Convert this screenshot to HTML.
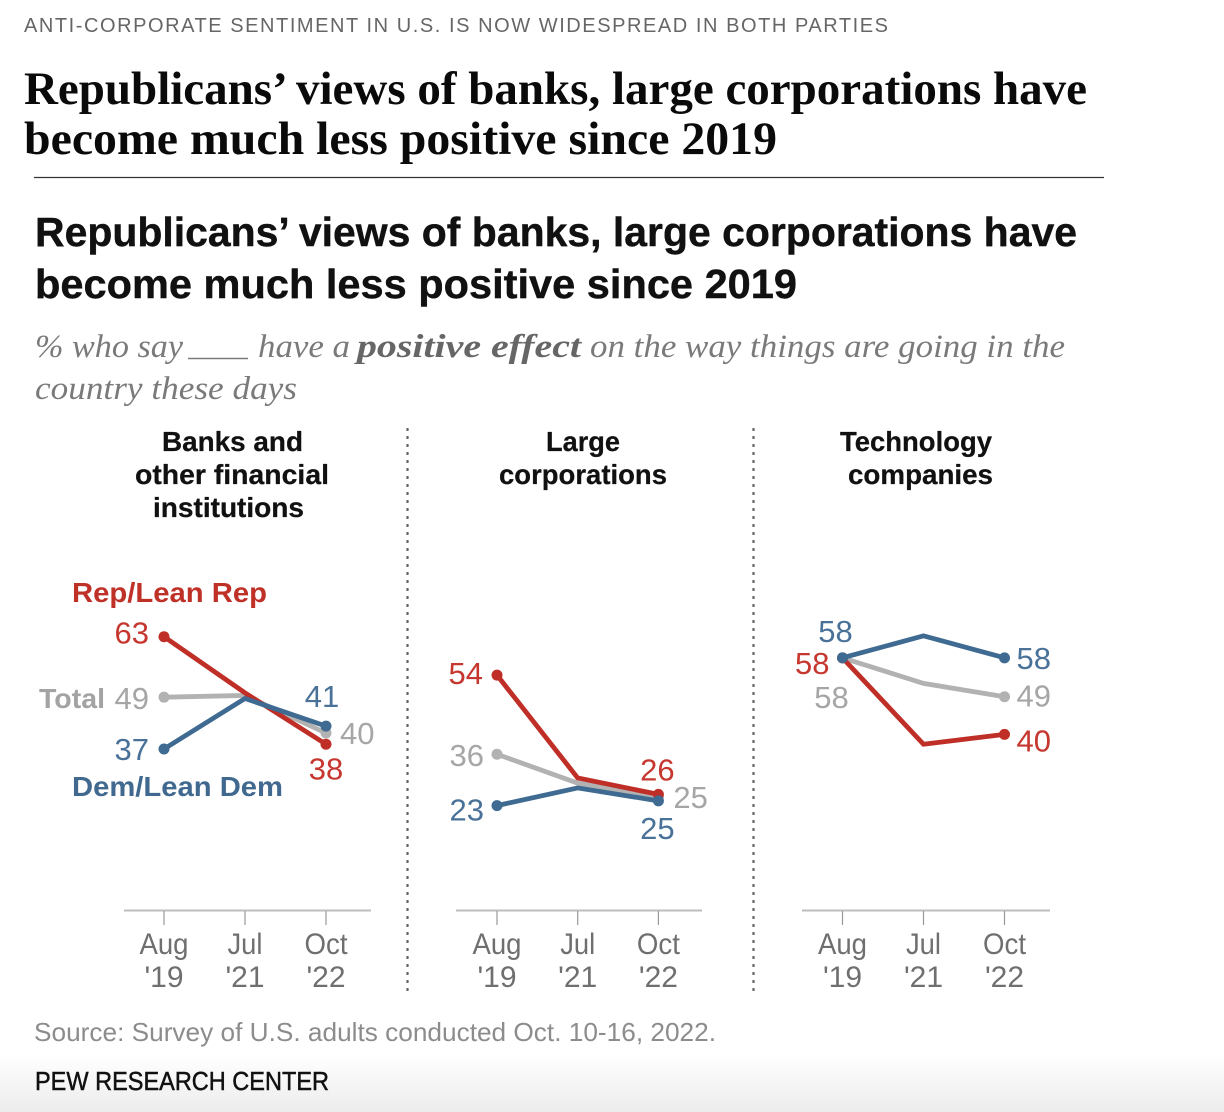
<!DOCTYPE html>
<html lang="en">
<head>
<meta charset="utf-8">
<title>Republicans' views of banks, large corporations</title>
<style>
html,body{margin:0;padding:0;background:#fff;width:1224px;height:1112px;overflow:hidden}
svg{display:block}
.sans{font-family:"Liberation Sans",sans-serif}
.serif{font-family:"Liberation Serif",serif}
.head{font-family:"Liberation Sans",sans-serif;font-weight:700;font-size:28px;fill:#111;stroke:#111;stroke-width:.25}
.val{font-family:"Liberation Sans",sans-serif;font-size:31px}
.tick{font-family:"Liberation Sans",sans-serif;font-size:30px;fill:#6f6f6f}
.sub{font-family:"Liberation Serif",serif;font-size:33px;font-style:italic;fill:#7a7a7a}
</style>
</head>
<body>
<svg id="chart" xmlns="http://www.w3.org/2000/svg" width="1224" height="1112" viewBox="0 0 1224 1112">
<defs>
<linearGradient id="fade" x1="0" y1="0" x2="0" y2="1">
<stop offset="0" stop-color="#ffffff"/>
<stop offset="1" stop-color="#ececec"/>
</linearGradient>
</defs>
<rect x="0" y="1056" width="1224" height="56" fill="url(#fade)"/>

<text class="sans" x="24" y="32" font-size="20" fill="#666" textLength="864" lengthAdjust="spacing">ANTI-CORPORATE SENTIMENT IN U.S. IS NOW WIDESPREAD IN BOTH PARTIES</text>
<text class="serif" x="24" y="104" font-size="47" font-weight="700" fill="#0a0a0a" textLength="1063" lengthAdjust="spacingAndGlyphs">Republicans’ views of banks, large corporations have</text>
<text class="serif" x="24" y="154" font-size="47" font-weight="700" fill="#0a0a0a" textLength="753" lengthAdjust="spacingAndGlyphs">become much less positive since 2019</text>
<line x1="34" y1="177.5" x2="1104" y2="177.5" stroke="#333" stroke-width="1.3"/>

<text class="sans" x="35" y="246" font-size="41" font-weight="700" fill="#111" stroke="#111" stroke-width="0.4" textLength="1042" lengthAdjust="spacingAndGlyphs">Republicans’ views of banks, large corporations have</text>
<text class="sans" x="35" y="298" font-size="41" font-weight="700" fill="#111" stroke="#111" stroke-width="0.4" textLength="762" lengthAdjust="spacingAndGlyphs">become much less positive since 2019</text>

<text class="sub" x="35" y="357" textLength="148" lengthAdjust="spacingAndGlyphs">% who say</text>
<line x1="188" y1="358.5" x2="248" y2="358.5" stroke="#7a7a7a" stroke-width="1.4"/>
<text class="sub" x="258" y="357" textLength="92" lengthAdjust="spacingAndGlyphs">have a</text>
<text class="sub" x="357" y="357" font-weight="700" style="fill:#666" textLength="224" lengthAdjust="spacingAndGlyphs">positive effect</text>
<text class="sub" x="590" y="357" textLength="475" lengthAdjust="spacingAndGlyphs">on the way things are going in the</text>
<text class="sub" x="35" y="399" textLength="262" lengthAdjust="spacingAndGlyphs">country these days</text>

<text class="head" x="162" y="451" textLength="141" lengthAdjust="spacingAndGlyphs">Banks and</text>
<text class="head" x="135" y="484" textLength="194" lengthAdjust="spacingAndGlyphs">other financial</text>
<text class="head" x="153" y="517" textLength="151" lengthAdjust="spacingAndGlyphs">institutions</text>
<text class="head" x="546" y="451" textLength="74" lengthAdjust="spacingAndGlyphs">Large</text>
<text class="head" x="499" y="484" textLength="168" lengthAdjust="spacingAndGlyphs">corporations</text>
<text class="head" x="840" y="451" textLength="152" lengthAdjust="spacingAndGlyphs">Technology</text>
<text class="head" x="848" y="484" textLength="145" lengthAdjust="spacingAndGlyphs">companies</text>

<line x1="407.5" y1="428" x2="407.5" y2="992" stroke="#666" stroke-width="2.2" stroke-dasharray="3 5"/>
<line x1="753.5" y1="428" x2="753.5" y2="992" stroke="#666" stroke-width="2.2" stroke-dasharray="3 5"/>

<text class="sans" x="72" y="602" font-size="28" font-weight="700" fill="#bf3027" textLength="195" lengthAdjust="spacingAndGlyphs">Rep/Lean Rep</text>
<text class="sans" x="72" y="796" font-size="28" font-weight="700" fill="#41698f" textLength="211" lengthAdjust="spacingAndGlyphs">Dem/Lean Dem</text>
<text class="sans" x="39" y="708" font-size="28" font-weight="700" fill="#a3a3a3" textLength="66" lengthAdjust="spacingAndGlyphs">Total</text>

<g id="marks"></g>

<text class="sans" x="34" y="1041" font-size="26" fill="#8c8c8c" textLength="682" lengthAdjust="spacingAndGlyphs">Source: Survey of U.S. adults conducted Oct. 10-16, 2022.</text>
<text class="sans" x="35" y="1090" font-size="26" fill="#111" stroke="#111" stroke-width="0.5" textLength="294" lengthAdjust="spacingAndGlyphs">PEW RESEARCH CENTER</text>
</svg>
<script>
/* Chart data */
var monthLabels = ["Aug", "Jul", "Oct"];
var yearLabels = ["'19", "'21", "'22"];
var panelNames = ["banks", "corporations", "technology"];

var banksRep = [63, 50, 38.1];
var banksDem = [37, 48.7, 42.3];
var banksTotal = [49, 49.4, 40.7];
var corporationsRep = [54.1, 30.3, 26.5];
var corporationsDem = [23.9, 28, 25];
var corporationsTotal = [35.8, 29.1, 25.9];
var technologyRep = [58.1, 38.1, 40.4];
var technologyDem = [58.1, 63.2, 58.1];
var technologyTotal = [58.1, 52.2, 49.1];

/* Printed first and last value labels */
var banksRepLabels = ["63", "38"];
var banksDemLabels = ["37", "41"];
var banksTotalLabels = ["49", "40"];
var corporationsRepLabels = ["54", "26"];
var corporationsDemLabels = ["23", "25"];
var corporationsTotalLabels = ["36", "25"];
var technologyRepLabels = ["58", "40"];
var technologyDemLabels = ["58", "58"];
var technologyTotalLabels = ["58", "49"];

var panelValues = [
  {total: banksTotal, rep: banksRep, dem: banksDem},
  {total: corporationsTotal, rep: corporationsRep, dem: corporationsDem},
  {total: technologyTotal, rep: technologyRep, dem: technologyDem}
];
var panelLabels = [
  {total: banksTotalLabels, rep: banksRepLabels, dem: banksDemLabels},
  {total: corporationsTotalLabels, rep: corporationsRepLabels, dem: corporationsDemLabels},
  {total: technologyTotalLabels, rep: technologyRepLabels, dem: technologyDemLabels}
];

/* Layout (separate from data) */
var panelLayout = [
  {start: 164, step: 81, axisFrom: 124, axisTo: 371},
  {start: 497, step: 80.7, axisFrom: 456, axisTo: 702},
  {start: 842.5, step: 81, axisFrom: 802, axisTo: 1050}
];
var seriesOrder = ["total", "rep", "dem"];
var lineColor = {total: "#b2b2b2", rep: "#bf2f27", dem: "#3f6a91"};
var textColor = {total: "#a6a6a6", rep: "#c5372f", dem: "#4a7299"};
/* Label offset from its point: [dx, dy, anchor], first point then last point */
var labelOffsets = [
  {rep: [[-15, 7, "end"], [0, 35, "middle"]],
   dem: [[-15, 11, "end"], [-4, -19, "middle"]],
   total: [[-15, 12, "end"], [14, 11, "start"]]},
  {rep: [[-14, 9, "end"], [-1, -14, "middle"]],
   dem: [[-13, 15, "end"], [-1, 38, "middle"]],
   total: [[-13, 12, "end"], [15, 11, "start"]]},
  {rep: [[-13, 16, "end"], [12, 17, "start"]],
   dem: [[-7, -16, "middle"], [12, 11, "start"]],
   total: [[-11, 50, "middle"], [12, 10, "start"]]}
];
var seriesTitle = {total: "total", rep: "rep", dem: "dem"};

var SVG_NS = "http://www.w3.org/2000/svg";
var root = document.getElementById("marks");

function yScale(value) {
  return 636.7 + (63 - value) * 4.32;
}
function xScale(panelIndex, pointIndex) {
  return panelLayout[panelIndex].start + pointIndex * panelLayout[panelIndex].step;
}
function make(tag, attrs, parent) {
  var el = document.createElementNS(SVG_NS, tag);
  for (var k in attrs) { el.setAttribute(k, attrs[k]); }
  parent.appendChild(el);
  return el;
}

panelValues.forEach(function (values, p) {
  var layout = panelLayout[p];
  var group = make("g", {}, root);
  
  

  var axis = make("line", {x1: layout.axisFrom, y1: 910.5, x2: layout.axisTo, y2: 910.5, stroke: "#bdbdbd", "stroke-width": 2}, group);
  
  

  monthLabels.forEach(function (month, i) {
    var x = xScale(p, i);
    var tick = make("line", {x1: x, y1: 911, x2: x, y2: 925, stroke: "#999", "stroke-width": 1.2}, group);
    
    

    var monthText = make("text", {"class": "tick", x: x, y: 954, "text-anchor": "middle", textLength: month === "Aug" ? 49 : (month === "Jul" ? 35 : 43), lengthAdjust: "spacingAndGlyphs"}, group);
    monthText.textContent = month;
    
    

    var yearText = make("text", {"class": "tick", x: x, y: 987, "text-anchor": "middle"}, group);
    yearText.textContent = yearLabels[i];
    
    
  });

  seriesOrder.forEach(function (key) {
    var series = values[key];
    var pts = series.map(function (v, i) {
      return xScale(p, i) + "," + yScale(v);
    }).join(" ");
    var line = make("polyline", {points: pts, fill: "none", stroke: lineColor[key], "stroke-width": 4.8, "stroke-linejoin": "miter"}, group);
    
    

    [0, series.length - 1].forEach(function (i, n) {
      var cx = xScale(p, i);
      var cy = yScale(series[i]);
      var dot = make("circle", {cx: cx, cy: cy, r: 5.5, fill: lineColor[key]}, group);
      
      

      var off = labelOffsets[p][key][n];
      var label = make("text", {"class": "val", x: cx + off[0], y: cy + off[1], "text-anchor": off[2], fill: textColor[key]}, group);
      label.textContent = panelLabels[p][key][n];
      
      
    });
  });
});
</script>
</body>
</html>
